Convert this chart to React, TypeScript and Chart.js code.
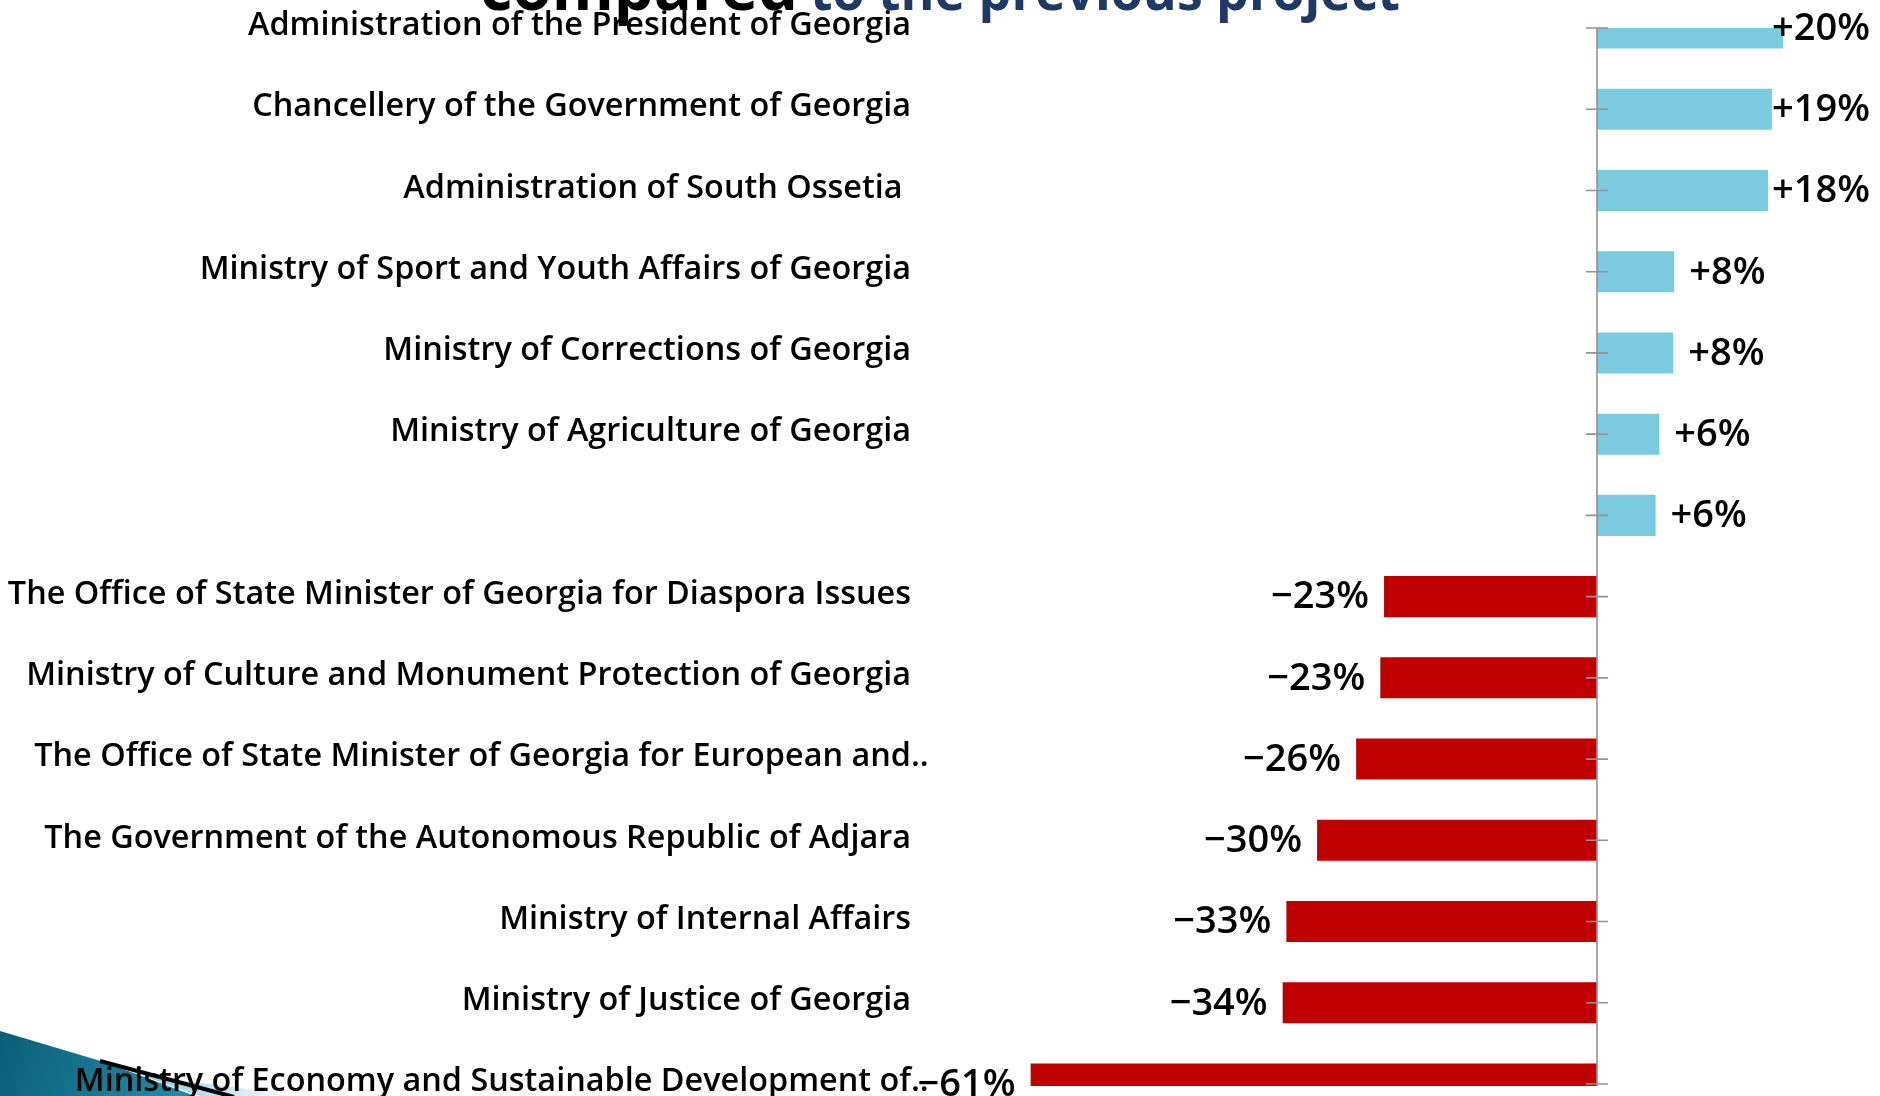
import { useEffect, useRef } from "react";
import { Chart, registerables } from "chart.js";

Chart.register(...registerables);

// ---- data ----
const categories: string[] = [
  "Administration of the President of Georgia",
  "Chancellery of the Government of Georgia",
  "Administration of South Ossetia ",
  "Ministry of Sport and Youth Affairs of Georgia",
  "Ministry of Corrections of Georgia",
  "Ministry of Agriculture of Georgia",
  "",
  "The Office of State Minister of Georgia for Diaspora Issues",
  "Ministry of Culture and Monument Protection of Georgia",
  "The Office of State Minister of Georgia for European and..",
  "The Government of the Autonomous Republic of Adjara",
  "Ministry of Internal Affairs",
  "Ministry of Justice of Georgia",
  "Ministry of Economy and Sustainable Development of..",
];

const changePercent: number[] = [
  20.0, 18.8, 18.4, 8.3, 8.2, 6.7, 6.3, -22.9, -23.3, -25.9, -30.1, -33.4, -33.8, -60.9,
];

const valueLabels: string[] = [
  "+20%", "+19%", "+18%", "+8%", "+8%", "+6%", "+6%",
  "\u221223%", "\u221223%", "\u221226%", "\u221230%", "\u221233%", "\u221234%", "\u221261%",
];

const titleLead = "compared";
const titleRest = "to the previous project";

// ---- styles ----
const W = 1880;
const H = 1096;
const POS_COLOR = "#7BCAE0";
const NEG_COLOR = "#C00000";
const AXIS_COLOR = "#939393";
const LABEL_FONT = '600 32.4px "Open Sans"';
const VALUE_FONT = '600 38px "Open Sans"';
const LABEL_RIGHT = 911;
const VALUE_RIGHT = 1870;
const VALUE_GAP = 15;

const overlayPlugin = {
  id: "overlay",
  beforeDraw(chart: any) {
    const ctx: CanvasRenderingContext2D = chart.ctx;
    ctx.save();
    // decorative corner shape (bottom-left)
    const g = ctx.createLinearGradient(0, 1030, 210, 1096);
    g.addColorStop(0, "#0B5E77");
    g.addColorStop(1, "#2592AE");
    ctx.fillStyle = g;
    ctx.beginPath();
    ctx.moveTo(0, 1031);
    ctx.lineTo(104, 1062);
    ctx.lineTo(195, 1096);
    ctx.lineTo(0, 1096);
    ctx.closePath();
    ctx.fill();
    const g2 = ctx.createLinearGradient(150, 1080, 300, 1096);
    g2.addColorStop(0, "#8ECFE2");
    g2.addColorStop(1, "#FFFFFF");
    ctx.fillStyle = g2;
    ctx.beginPath();
    ctx.moveTo(140, 1075);
    ctx.lineTo(300, 1096);
    ctx.lineTo(200, 1096);
    ctx.closePath();
    ctx.fill();
    ctx.strokeStyle = "#000";
    ctx.lineWidth = 4;
    ctx.beginPath();
    ctx.moveTo(100, 1061);
    ctx.lineTo(234, 1097);
    ctx.stroke();

    // title (mostly cut off at the top)
    ctx.textBaseline = "alphabetic";
    ctx.textAlign = "left";
    ctx.font = 'bold 64px "Open Sans"';
    ctx.fillStyle = "#000";
    ctx.fillText(titleLead, 480, 10, 318);
    ctx.font = 'bold 53px "Open Sans"';
    ctx.fillStyle = "#1F3864";
    ctx.fillText(titleRest, 810, 10, 590);
    ctx.restore();
  },
  afterDatasetsDraw(chart: any) {
    const ctx: CanvasRenderingContext2D = chart.ctx;
    const xs = chart.scales.x;
    const ys = chart.scales.y;
    const area = chart.chartArea;
    const x0 = xs.getPixelForValue(0);
    ctx.save();

    // vertical category axis at zero with crossing ticks
    ctx.strokeStyle = AXIS_COLOR;
    ctx.lineWidth = 1.6;
    ctx.beginPath();
    ctx.moveTo(x0, area.top);
    ctx.lineTo(x0, area.bottom + 2);
    categories.forEach((_, i) => {
      const py = ys.getPixelForValue(i);
      ctx.moveTo(x0 - 11, py);
      ctx.lineTo(x0 + 11, py);
    });
    ctx.stroke();

    // category labels, right aligned (trailing dots hang past the margin)
    ctx.fillStyle = "#000";
    ctx.textBaseline = "middle";
    ctx.textAlign = "left";
    ctx.font = LABEL_FONT;
    categories.forEach((c, i) => {
      if (!c) return;
      const py = ys.getPixelForValue(i) - 2;
      const core = c.replace(/\.+$/, "");
      const w = ctx.measureText(core).width;
      ctx.fillText(c, LABEL_RIGHT - w, py);
    });

    // value labels
    ctx.font = VALUE_FONT;
    changePercent.forEach((v, i) => {
      const py = ys.getPixelForValue(i) + 1;
      const bx = xs.getPixelForValue(v);
      const t = valueLabels[i];
      const w = ctx.measureText(t).width;
      const left = v >= 0 ? Math.min(bx + VALUE_GAP, VALUE_RIGHT - w) : bx - VALUE_GAP - w;
      ctx.fillText(t, left, py);
    });
    ctx.restore();
  },
};

export default function App() {
  const ref = useRef<HTMLCanvasElement | null>(null);
  useEffect(() => {
    if (!ref.current) return;
    const chart = new Chart(ref.current, {
      type: "bar",
      data: {
        labels: categories,
        datasets: [
          {
            data: changePercent,
            backgroundColor: changePercent.map((v) => (v >= 0 ? POS_COLOR : NEG_COLOR)),
            borderWidth: 0,
            categoryPercentage: 0.505,
            barPercentage: 1,
            clip: { left: false, right: false, top: 0, bottom: 2 } as any,
          },
        ],
      },
      options: {
        indexAxis: "y",
        responsive: false,
        animation: false,
        devicePixelRatio: 1,
        layout: { padding: { left: 946, right: 4, top: 28, bottom: 12 } },
        plugins: {
          legend: { display: false },
          tooltip: { enabled: false },
          title: { display: false },
        },
        scales: {
          x: { type: "linear", min: -70, max: 30, display: false },
          y: { type: "category", offset: false, display: false, grid: { offset: false } },
        },
      },
      plugins: [overlayPlugin],
    });
    return () => chart.destroy();
  }, []);
  return (
    <div style={{ position: "fixed", left: 0, top: 0, width: W, height: H, background: "#fff" }}>
      <canvas ref={ref} width={W} height={H} style={{ display: "block" }} />
    </div>
  );
}
